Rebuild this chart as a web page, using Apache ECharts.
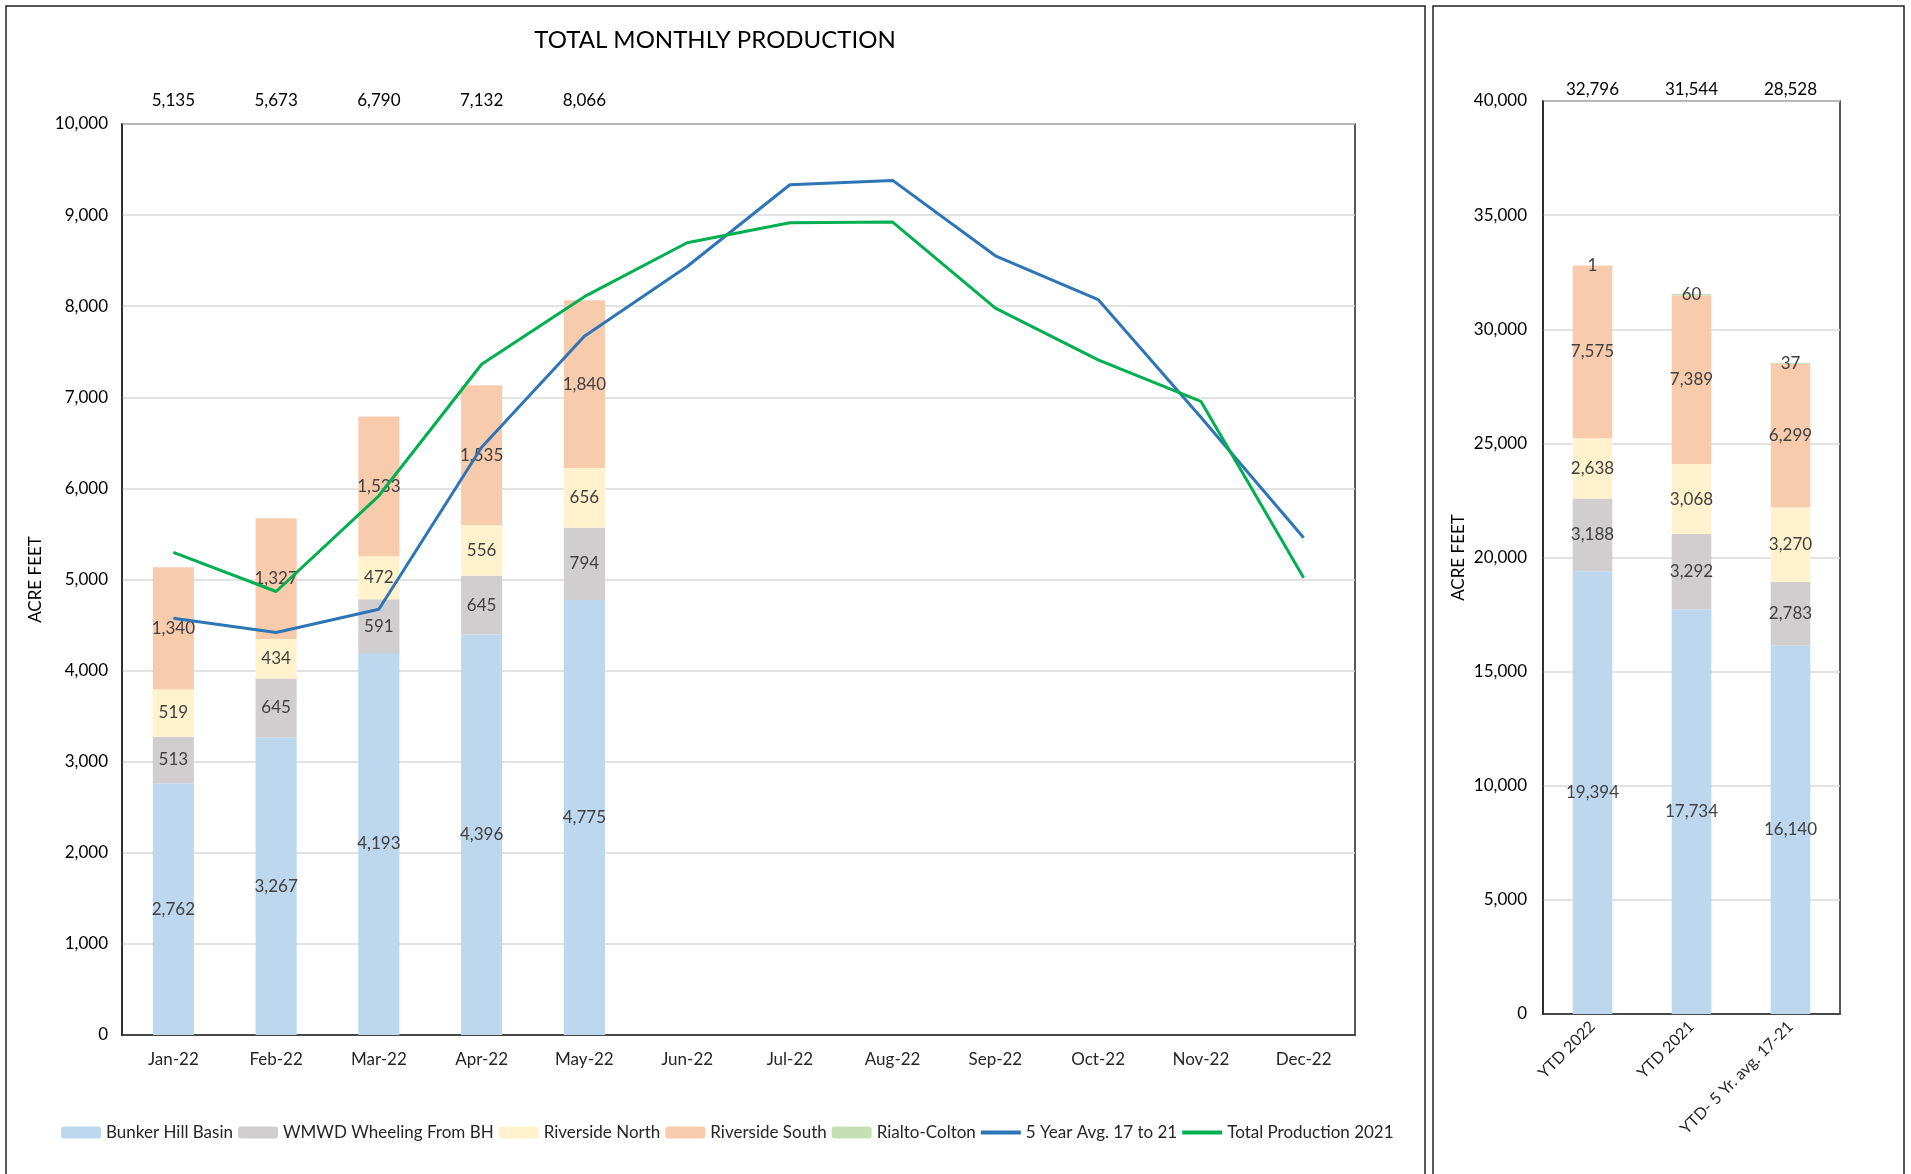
<!DOCTYPE html>
<html>
<head>
<meta charset="utf-8">
<script src="https://cdn.jsdelivr.net/npm/echarts@6/dist/echarts.min.js"></script>
<style>
	html, body {margin:0; padding:0; background:#fff;}
	#main {width:1911px; height:1174px;}
</style>
</head>
<body>
<div id="main"></div>
<script>
//数据
var months = ['Jan-22','Feb-22','Mar-22','Apr-22','May-22','Jun-22','Jul-22','Aug-22','Sep-22','Oct-22','Nov-22','Dec-22'];
var bunker_hill = [2762, 3267, 4193, 4396, 4775];
var wmwd = [513, 645, 591, 645, 794];
var riverside_north = [519, 434, 472, 556, 656];
var riverside_south = [1340, 1327, 1533, 1535, 1840];
var rialto_colton = [0, 0, 1, 0, 0];
var month_totals = ['5,135', '5,673', '6,790', '7,132', '8,066'];
var avg_5yr = [4575, 4418, 4674, 6451, 7670, 8436, 9333, 9381, 8553, 8073, 6780, 5458];
var total_2021 = [5297, 4868, 5919, 7363, 8105, 8696, 8916, 8923, 7978, 7410, 6956, 5019];

var ytd_cats = ['YTD 2022', 'YTD 2021', 'YTD- 5 Yr. avg. 17-21'];
var ytd_bunker = [19394, 17734, 16140];
var ytd_wmwd = [3188, 3292, 2783];
var ytd_north = [2638, 3068, 3270];
var ytd_south = [7575, 7389, 6299];
var ytd_rialto = [1, 60, 37];
var ytd_totals = ['32,796', '31,544', '28,528'];

var names = ['Bunker Hill Basin', 'WMWD Wheeling From BH', 'Riverside North', 'Riverside South', 'Rialto-Colton', '5 Year Avg. 17 to 21', 'Total Production 2021'];
var colors = ['#BDD7EE', '#D0CECE', '#FFF2CC', '#F8CBAD', '#C5E0B4', '#2E75B6', '#00B050'];

var font = 'Lato, "Liberation Sans", sans-serif';
var line_icon = 'path://M0,0 L40,0 L40,4 L0,4 Z';

function fmt(v) {
	return Number(v).toLocaleString('en-US');
}

function barSeries(idx, data, axisIdx, stack, showLabel) {
	return {
		name: names[idx],
		type: 'bar',
		stack: stack,
		xAxisIndex: axisIdx,
		yAxisIndex: axisIdx === 0 ? 0 : 1,
		barWidth: '40%',
		data: data,
		itemStyle: {color: colors[idx]},
		label: {
			show: showLabel,
			position: 'inside',
			color: '#404040',
			fontSize: 17,
			fontFamily: font,
			formatter: function (p) { return p.value ? fmt(p.value) : ''; }
		}
	};
}

var chart = echarts.init(document.getElementById('main'));
chart.setOption({
	animation: false,
	textStyle: {fontFamily: font},
	graphic: [
		{type: 'rect', shape: {x: 6, y: 6, width: 1419, height: 1190}, style: {fill: 'none', stroke: '#222', lineWidth: 1.5}},
		{type: 'rect', shape: {x: 1433, y: 6, width: 471, height: 1190}, style: {fill: 'none', stroke: '#222', lineWidth: 1.5}},
		{type: 'text', x: 715, y: 40, style: {text: 'TOTAL MONTHLY PRODUCTION', fontSize: 24, fontFamily: font, fill: '#000', textAlign: 'center', textVerticalAlign: 'middle'}}
	],
	legend: {
		data: [
			names[0], names[1], names[2], names[3], names[4],
			{name: names[5], icon: line_icon},
			{name: names[6], icon: line_icon}
		],
		left: 56,
		top: 1119,
		itemWidth: 40,
		itemHeight: 12,
		itemGap: 5,
		textStyle: {fontSize: 17, color: '#262626', fontFamily: font}
	},
	grid: [
		{left: 122, top: 124, width: 1233, height: 911, show: true, borderColor: '#222', borderWidth: 1.5},
		{left: 1543, top: 101, width: 297, height: 913, show: true, borderColor: '#222', borderWidth: 1.5}
	],
	xAxis: [
		{
			type: 'category', gridIndex: 0, data: months,
			axisTick: {show: false},
			axisLine: {lineStyle: {color: '#222', width: 1.5}},
			axisLabel: {fontSize: 17, color: '#262626', margin: 16}
		},
		{
			type: 'category', gridIndex: 1, data: ytd_cats,
			axisTick: {show: false},
			axisLine: {lineStyle: {color: '#222', width: 1.5}},
			axisLabel: {fontSize: 16, color: '#262626', rotate: 45, margin: 10, interval: 0}
		},
		{
			type: 'category', gridIndex: 0, data: months, position: 'top',
			axisTick: {show: false}, axisLine: {show: false},
			axisLabel: {fontSize: 17, color: '#000', margin: 15, interval: 0,
				formatter: function (v, i) { return month_totals[i] || ''; }}
		},
		{
			type: 'category', gridIndex: 1, data: ytd_cats, position: 'top',
			axisTick: {show: false}, axisLine: {show: false},
			axisLabel: {fontSize: 17, color: '#000', margin: 3, interval: 0,
				formatter: function (v, i) { return ytd_totals[i]; }}
		}
	],
	yAxis: [
		{
			type: 'value', gridIndex: 0, min: 0, max: 10000, interval: 1000,
			name: 'ACRE FEET', nameLocation: 'middle', nameGap: 76, nameRotate: 90,
			nameTextStyle: {fontSize: 17, color: '#000'},
			axisLine: {show: true, lineStyle: {color: '#222', width: 1.5}},
			axisLabel: {fontSize: 17, color: '#000', margin: 14, formatter: fmt},
			splitLine: {lineStyle: {color: '#d9d9d9', width: 1.5}}
		},
		{
			type: 'value', gridIndex: 1, min: 0, max: 40000, interval: 5000,
			name: 'ACRE FEET', nameLocation: 'middle', nameGap: 76, nameRotate: 90,
			nameTextStyle: {fontSize: 17, color: '#000'},
			axisLine: {show: true, lineStyle: {color: '#222', width: 1.5}},
			axisLabel: {fontSize: 17, color: '#000', margin: 16, formatter: fmt},
			splitLine: {lineStyle: {color: '#d9d9d9', width: 1.5}}
		}
	],
	series: [
		barSeries(0, bunker_hill, 0, 'month', true),
		barSeries(1, wmwd, 0, 'month', true),
		barSeries(2, riverside_north, 0, 'month', true),
		barSeries(3, riverside_south, 0, 'month', true),
		barSeries(4, rialto_colton, 0, 'month', false),
		{
			name: names[5], type: 'line', xAxisIndex: 0, yAxisIndex: 0,
			data: avg_5yr, symbol: 'none', z: 5,
			itemStyle: {color: colors[5]},
			lineStyle: {color: colors[5], width: 3}
		},
		{
			name: names[6], type: 'line', xAxisIndex: 0, yAxisIndex: 0,
			data: total_2021, symbol: 'none', z: 5,
			itemStyle: {color: colors[6]},
			lineStyle: {color: colors[6], width: 3}
		},
		barSeries(0, ytd_bunker, 1, 'ytd', true),
		barSeries(1, ytd_wmwd, 1, 'ytd', true),
		barSeries(2, ytd_north, 1, 'ytd', true),
		barSeries(3, ytd_south, 1, 'ytd', true),
		barSeries(4, ytd_rialto, 1, 'ytd', true)
	]
});
</script>
</body>
</html>
